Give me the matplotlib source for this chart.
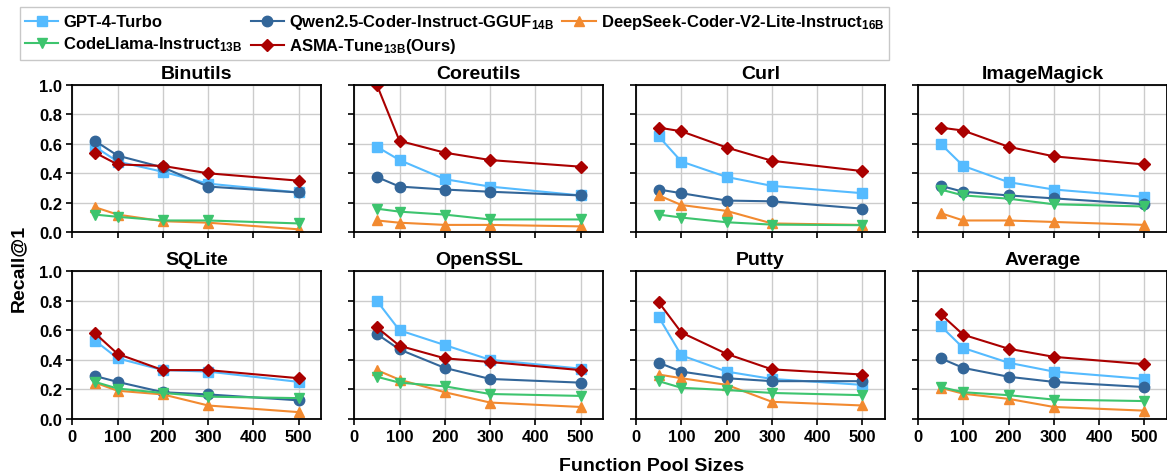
import matplotlib
matplotlib.use('Agg')
import matplotlib.pyplot as plt

plt.rcParams['font.family'] = ['Liberation Sans', 'DejaVu Sans']
plt.rcParams['font.weight'] = 'bold'
plt.rcParams['mathtext.fontset'] = 'custom'
plt.rcParams['mathtext.rm'] = 'Liberation Sans:bold'
plt.rcParams['mathtext.it'] = 'Liberation Sans:bold'
plt.rcParams['mathtext.bf'] = 'Liberation Sans:bold'

pool_sizes = [50, 100, 200, 300, 500]
projects = ['Binutils', 'Coreutils', 'Curl', 'ImageMagick',
            'SQLite', 'OpenSSL', 'Putty', 'Average']

# recall@1 per project, one list per model
gpt4 = [
    [0.58, 0.48, 0.41, 0.33, 0.27],
    [0.58, 0.49, 0.36, 0.31, 0.25],
    [0.65, 0.48, 0.375, 0.315, 0.265],
    [0.60, 0.45, 0.34, 0.29, 0.24],
    [0.53, 0.41, 0.33, 0.32, 0.25],
    [0.80, 0.60, 0.50, 0.40, 0.34],
    [0.69, 0.43, 0.32, 0.27, 0.23],
    [0.63, 0.48, 0.38, 0.32, 0.27],
]
qwen = [
    [0.62, 0.52, 0.44, 0.31, 0.27],
    [0.375, 0.31, 0.29, 0.275, 0.25],
    [0.29, 0.265, 0.215, 0.21, 0.16],
    [0.315, 0.275, 0.25, 0.23, 0.19],
    [0.29, 0.25, 0.18, 0.165, 0.125],
    [0.575, 0.47, 0.345, 0.27, 0.245],
    [0.38, 0.32, 0.275, 0.255, 0.255],
    [0.41, 0.345, 0.285, 0.25, 0.215],
]
deepseek = [
    [0.17, 0.12, 0.075, 0.065, 0.02],
    [0.08, 0.065, 0.05, 0.05, 0.04],
    [0.25, 0.185, 0.145, 0.06, 0.05],
    [0.13, 0.08, 0.08, 0.07, 0.05],
    [0.245, 0.19, 0.165, 0.09, 0.045],
    [0.33, 0.265, 0.18, 0.11, 0.08],
    [0.30, 0.275, 0.23, 0.115, 0.09],
    [0.21, 0.17, 0.135, 0.08, 0.055],
]
codellama = [
    [0.12, 0.105, 0.08, 0.08, 0.06],
    [0.16, 0.14, 0.12, 0.087, 0.087],
    [0.12, 0.10, 0.068, 0.052, 0.048],
    [0.29, 0.25, 0.228, 0.19, 0.175],
    [0.25, 0.205, 0.175, 0.15, 0.14],
    [0.285, 0.245, 0.22, 0.168, 0.155],
    [0.255, 0.21, 0.195, 0.175, 0.16],
    [0.215, 0.18, 0.16, 0.13, 0.12],
]
asma = [
    [0.54, 0.46, 0.45, 0.40, 0.35],
    [1.00, 0.62, 0.54, 0.49, 0.445],
    [0.71, 0.685, 0.575, 0.485, 0.415],
    [0.71, 0.69, 0.58, 0.515, 0.46],
    [0.58, 0.44, 0.33, 0.33, 0.275],
    [0.62, 0.495, 0.41, 0.385, 0.33],
    [0.79, 0.585, 0.44, 0.335, 0.30],
    [0.71, 0.57, 0.475, 0.42, 0.37],
]

series = [
    ('GPT-4-Turbo', gpt4, '#55BBFF', 's', 6.5),
    ('Qwen2.5-Coder-Instruct-GGUF$_{14B}$', qwen, '#336699', 'o', 7.5),
    ('DeepSeek-Coder-V2-Lite-Instruct$_{16B}$', deepseek, '#F28A30', '^', 7.5),
    ('CodeLlama-Instruct$_{13B}$', codellama, '#3DC46E', 'v', 7.5),
    ('ASMA-Tune$_{13B}$(Ours)', asma, '#AA0000', 'D', 6.5),
]

fig, axes = plt.subplots(2, 4, figsize=(11.67, 4.77), dpi=100)
fig.subplots_adjust(left=0.062, right=1.0, top=0.82, bottom=0.12,
                    wspace=0.132, hspace=0.265)

for i, ax in enumerate(axes.flat):
    for label, data, color, marker, ms in series:
        ax.plot(pool_sizes, data[i], color=color, marker=marker, ms=ms,
                lw=1.5, label=label)
    ax.set_title(projects[i], fontsize=14, fontweight='bold', pad=5)
    ax.set_xlim(0, 550)
    ax.set_ylim(0, 1.0)
    ax.set_xticks([0, 100, 200, 300, 400, 500])
    ax.set_yticks([0.0, 0.2, 0.4, 0.6, 0.8, 1.0])
    ax.grid(True, color='#cccccc', lw=1)
    ax.set_axisbelow(True)
    ax.tick_params(direction='out', length=4, width=1.2, labelsize=12)
    for s in ax.spines.values():
        s.set_linewidth(1.3)
    if i % 4 != 0:
        ax.set_yticklabels([])
    if i < 4:
        ax.set_xticklabels([])
    for t in ax.get_xticklabels() + ax.get_yticklabels():
        t.set_fontweight('bold')

fig.text(0.558, 0.021, 'Function Pool Sizes', ha='center', va='center',
         fontsize=14, fontweight='bold')
fig.text(0.016, 0.438, 'Recall@1', ha='center', va='center', rotation=90,
         fontsize=14, fontweight='bold')

handles, labels = axes.flat[0].get_legend_handles_labels()
order = [0, 3, 1, 4, 2]
fig.legend([handles[k] for k in order], [labels[k] for k in order],
           loc='upper left', bbox_to_anchor=(0.01, 1.0), ncol=3,
           frameon=True, fancybox=False, edgecolor='#bbbbbb',
           handlelength=2.0, handletextpad=0.3, columnspacing=0.5,
           labelspacing=0.3, borderpad=0.3, prop={'weight': 'bold', 'size': 12})

fig.savefig('out.png', dpi=100)
